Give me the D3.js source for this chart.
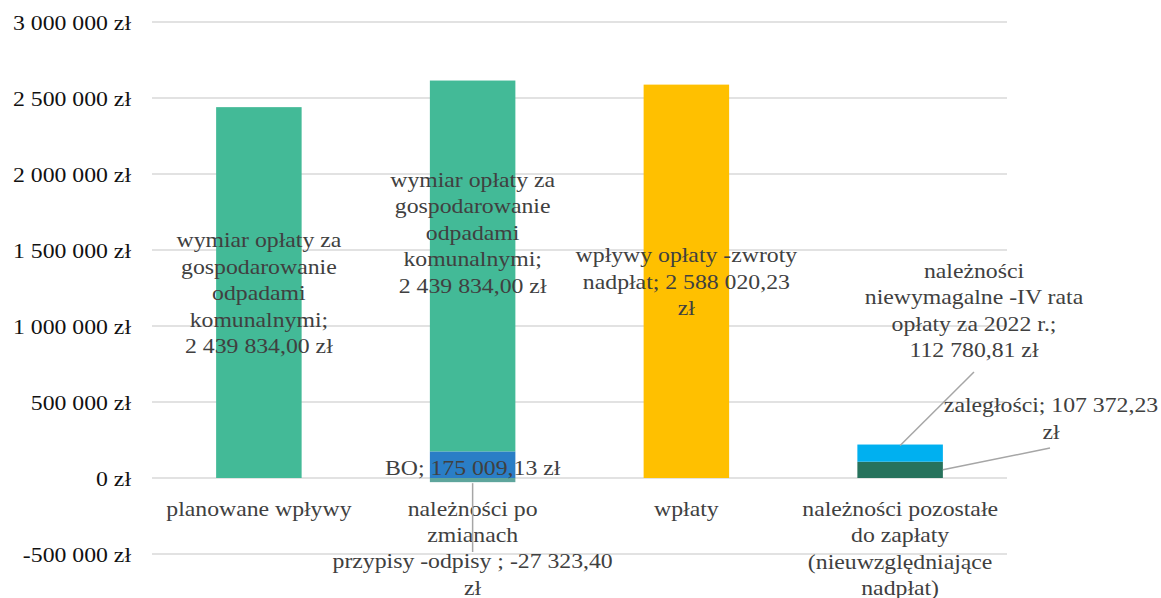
<!DOCTYPE html>
<meta charset="utf-8">
<style>
  body { margin: 0; background: #fff; }
</style>
<svg width="1161" height="598" font-family="'Liberation Serif', 'Times New Roman', serif"></svg>
<script src="https://d3js.org/d3.v7.min.js"></script>
<script>

  // data
  var categories = ["planowane wpływy", "należności po zmianach", "wpłaty", "należności pozostałe do zapłaty"];
  var categoryLines = [
    ["planowane wpływy"],
    ["należności po", "zmianach"],
    ["wpłaty"],
    ["należności pozostałe", "do zapłaty", "(nieuwzględniające", "nadpłat)"]
  ];
  var seriesNames = ["BO", "przypisy -odpisy", "wymiar", "wpływy", "zaległości", "niewymagalne"];
  var bo          = [0, 175009.13, 0, 0];
  var przypisy    = [0, -27323.40, 0, 0];
  var wymiar      = [2439834.00, 2439834.00, 0, 0];
  var wplywy      = [0, 0, 2588020.23, 0];
  var zaleglosci  = [0, 0, 0, 107372.23];
  var niewymagalne = [0, 0, 0, 112780.81];
  var yTicks = [-500000, 0, 500000, 1000000, 1500000, 2000000, 2500000, 3000000];

  var colors = {
    "BO": "#2a7ec6",
    "przypisy -odpisy": "#5ea59c",
    "wymiar": "#43ba97",
    "wpływy": "#ffc000",
    "zaległości": "#27725c",
    "niewymagalne": "#00b0f0"
  };

  var svg = d3.select("svg");
  var sx = 1.08; // text is a little wider than plain Liberation Serif
  var fs = 22;

  var x = d3.scaleBand().domain(categories).range([152, 1007]).paddingInner(0.6).paddingOuter(0.3);
  var y = d3.scaleLinear().domain([-500000, 3000000]).range([554, 22]);

  var pl = d3.formatLocale({decimal: ",", thousands: " ", grouping: [3], currency: ["", " zł"], minus: "-"});
  var fmt = pl.format("$,.0f");
  var fmtDec = pl.format(",.2f");

  // gridlines
  svg.append("g").selectAll("line").data(yTicks).enter().append("line")
      .attr("x1", 152).attr("x2", 1007)
      .attr("y1", function(d) { return y(d); }).attr("y2", function(d) { return y(d); })
      .attr("stroke", "#d9d9d9").attr("stroke-width", 1.5);

  // y tick labels
  svg.append("g").selectAll("text").data(yTicks).enter().append("text")
      .attr("transform", function(d) { return "translate(131," + (y(d) + 7.5) + ") scale(" + sx + ",1)"; })
      .attr("text-anchor", "end")
      .attr("font-size", fs)
      .attr("fill", "#111")
      .text(fmt);

  // stacked bars
  var table = categories.map(function(c, i) {
    return {cat: c, "BO": bo[i], "przypisy -odpisy": przypisy[i], "wymiar": wymiar[i],
            "wpływy": wplywy[i], "zaległości": zaleglosci[i], "niewymagalne": niewymagalne[i]};
  });
  var stack = d3.stack().keys(seriesNames).offset(d3.stackOffsetDiverging);
  var layers = stack(table);

  svg.append("g").selectAll("g").data(layers).enter().append("g")
      .attr("fill", function(d) { return colors[d.key]; })
    .selectAll("rect").data(function(d) { return d; }).enter().append("rect")
      .filter(function(d) { return d[1] !== d[0]; })
      .attr("x", function(d) { return x(d.data.cat); })
      .attr("width", x.bandwidth())
      .attr("y", function(d) { return y(Math.max(d[0], d[1])); })
      .attr("height", function(d) { return Math.abs(y(d[0]) - y(d[1])); });

  function textBlock(lines, cx, cy, color) {
    var lh = 26.5;
    var top = cy - (lines.length - 1) * lh / 2;
    var g = svg.append("g");
    lines.forEach(function(t, i) {
      g.append("text")
        .attr("transform", "translate(" + cx + "," + (top + i * lh + 7.5) + ") scale(" + sx + ",1)")
        .attr("text-anchor", "middle")
        .attr("font-size", fs)
        .attr("fill", color || "#404040")
        .text(t);
    });
  }

  // category labels
  categories.forEach(function(c, i) {
    textBlock(categoryLines[i], x(c) + x.bandwidth() / 2, 508 + (categoryLines[i].length - 1) * 13.25);
  });

  // leader lines
  var lead = svg.append("g").attr("stroke", "#a6a6a6").attr("stroke-width", 1.5);
  var c2 = x(categories[1]) + x.bandwidth() / 2;
  var c4 = x(categories[3]) + x.bandwidth() / 2;
  lead.append("line").attr("x1", c2).attr("x2", c2).attr("y1", y(przypisy[1]) + 1).attr("y2", 552);
  lead.append("line").attr("x1", 974).attr("y1", 372).attr("x2", c4).attr("y2", y(zaleglosci[3] + niewymagalne[3]) + 1);
  lead.append("line").attr("x1", 1050).attr("y1", 448)
      .attr("x2", x(categories[3]) + x.bandwidth()).attr("y2", y(zaleglosci[3] / 2));

  // data labels
  var c1 = x(categories[0]) + x.bandwidth() / 2;
  var c3 = x(categories[2]) + x.bandwidth() / 2;
  textBlock(["wymiar opłaty za", "gospodarowanie", "odpadami", "komunalnymi;", fmtDec(wymiar[0]) + " zł"], c1, y(wymiar[0] / 2));
  textBlock(["wymiar opłaty za", "gospodarowanie", "odpadami", "komunalnymi;", fmtDec(wymiar[1]) + " zł"], c2, 232);
  textBlock(["BO; " + fmtDec(bo[1]) + " zł"], c2, 467);
  textBlock(["przypisy -odpisy ; " + fmtDec(przypisy[1]), "zł"], c2, 574);
  textBlock(["wpływy opłaty -zwroty", "nadpłat; " + fmtDec(wplywy[2]), "zł"], c3, y(wplywy[2] / 2));
  textBlock(["należności", "niewymagalne -IV rata", "opłaty za 2022 r.;", fmtDec(niewymagalne[3]) + " zł"], 974, 310);
  textBlock(["zaległości; " + fmtDec(zaleglosci[3]), "zł"], 1051, 418);

</script>
